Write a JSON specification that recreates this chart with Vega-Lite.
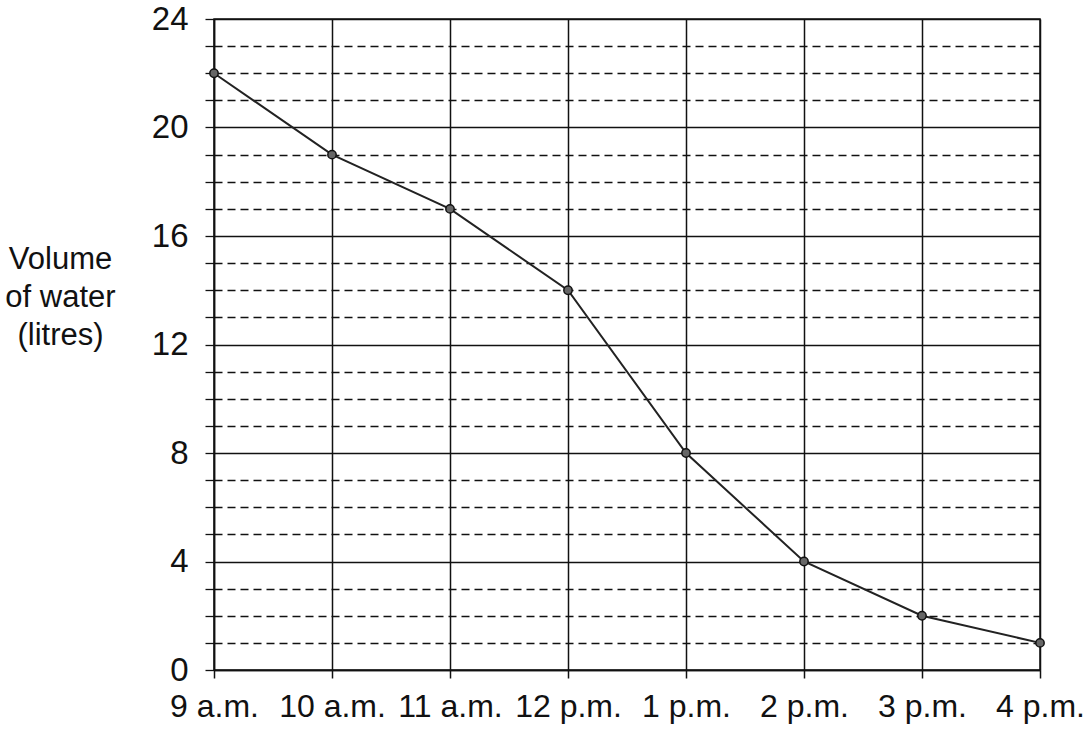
{
  "$schema": "https://vega.github.io/schema/vega-lite/v6.json",
  "autosize": {"type": "none"},
  "width": 826,
  "height": 651,
  "padding": {"left": 214, "top": 19, "right": 48, "bottom": 62},
  "background": "white",
  "config": {
    "font": "Liberation Sans",
    "view": {"stroke": "#111", "strokeWidth": 1.5},
    "axis": {"labelFont": "Liberation Sans", "titleFont": "Liberation Sans", "labelColor": "#111", "titleColor": "#111"}
  },
  "data": {
    "values": [
      {"time": "9 a.m.", "volume": 22},
      {"time": "10 a.m.", "volume": 19},
      {"time": "11 a.m.", "volume": 17},
      {"time": "12 p.m.", "volume": 14},
      {"time": "1 p.m.", "volume": 8},
      {"time": "2 p.m.", "volume": 4},
      {"time": "3 p.m.", "volume": 2},
      {"time": "4 p.m.", "volume": 1}
    ]
  },
  "encoding": {
    "x": {
      "field": "time",
      "type": "ordinal",
      "sort": null,
      "scale": {"type": "point", "padding": 0},
      "axis": {
        "title": null,
        "labelAngle": 0,
        "labelFontSize": 32,
        "labelPadding": 13,
        "labelOverlap": false,
        "tickSize": 8,
        "tickColor": "#111",
        "tickWidth": 1.5,
        "domainColor": "#111",
        "domainWidth": 1.5,
        "grid": true,
        "gridColor": "#111",
        "gridWidth": 1.5,
        "gridOpacity": 1
      }
    },
    "y": {
      "field": "volume",
      "type": "quantitative",
      "scale": {"domain": [0, 24], "nice": false},
      "axis": {
        "values": [0,1,2,3,4,5,6,7,8,9,10,11,12,13,14,15,16,17,18,19,20,21,22,23,24],
        "labelExpr": "datum.value % 4 === 0 ? datum.label : ''",
        "labelFontSize": 33,
        "labelPadding": 17,
        "tickSize": 9,
        "tickColor": "#111",
        "tickWidth": 1.3,
        "domainColor": "#111",
        "domainWidth": 1.5,
        "grid": true,
        "gridColor": "#111",
        "gridOpacity": 1,
        "gridWidth": {"condition": {"test": "datum.value % 4 === 0", "value": 1.5}, "value": 1.5},
        "gridDash": {"condition": {"test": "datum.value % 4 === 0", "value": []}, "value": [8, 5]},
        "title": ["Volume", "of water", "(litres)"],
        "titleAngle": 0,
        "titleAlign": "center",
        "titleBaseline": "alphabetic",
        "titleFontSize": 31,
        "titleFontWeight": "normal",
        "titleLineHeight": 38,
        "titleX": -154,
        "titleY": 249
      }
    }
  },
  "layer": [
    {"mark": {"type": "line", "color": "#222", "strokeWidth": 2}},
    {"mark": {"type": "point", "filled": true, "size": 70, "color": "#666", "stroke": "#111", "strokeWidth": 1.5, "opacity": 1}}
  ]
}
